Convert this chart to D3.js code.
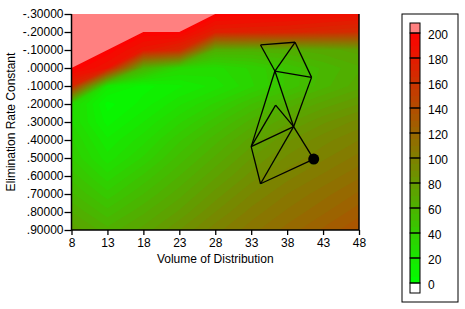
<!DOCTYPE html>
<html>
<head>
<meta charset="utf-8">
<script src="https://cdn.jsdelivr.net/npm/d3@7"></script>
<style>
  body { margin: 0; background: #fff; }
  svg text { font-family: "Liberation Sans", Arial, sans-serif; }
</style>
</head>
<body>
<div id="chart"></div>
<script>
// grid nodes (volume columns, rate constant rows)
const volumes = [8, 13, 18, 23, 28, 33, 38, 43, 48];
const rates = [-0.3, -0.2, -0.1, 0.0, 0.1, 0.2, 0.3, 0.4, 0.5, 0.6, 0.7, 0.8, 0.9];

// surface values, null = off the scale (pink area)
const surface = [
  [null, null, null, null, 199, 196, 194, 191, 188],
  [null, null, 199, 199, 176, 174, 172, 168, 164],
  [null, 199, 182, 168, 64, 62, 64, 68, 72],
  [199, 185, 60, 32, 28, 36, 46, 56, 64],
  [170, 18, 8, 14, 22, 34, 46, 58, 68],
  [32, 3, 12, 24, 36, 50, 62, 72, 80],
  [30, 8, 20, 34, 48, 62, 74, 84, 92],
  [36, 16, 28, 44, 58, 72, 84, 93, 100],
  [40, 22, 36, 52, 66, 80, 91, 99, 107],
  [48, 32, 46, 60, 74, 87, 98, 106, 114],
  [56, 42, 55, 68, 82, 95, 105, 113, 121],
  [65, 52, 64, 76, 90, 102, 111, 119, 128],
  [74, 62, 72, 85, 98, 108, 117, 126, 135]
];

// simplex vertices [volume, rate]
const simplexPts = {
  A: [34.3, -0.128], B: [39.1, -0.143], C: [36.3, 0.017], D: [41.4, 0.052],
  E: [36.4, 0.206], F: [38.9, 0.326], G: [33.0, 0.437], H: [34.3, 0.643]
};
const simplexEdges = [["A","B"],["A","C"],["B","C"],["B","D"],["C","D"],["C","F"],["C","G"],
  ["D","F"],["E","G"],["E","F"],["F","G"],["G","H"],["H","F"]];
const bestPoint = [41.7, 0.506];
const bestEdges = ["F", "H"];

const xTicks = [8, 13, 18, 23, 28, 33, 38, 43, 48];
const yTicks = [-0.3, -0.2, -0.1, 0, 0.1, 0.2, 0.3, 0.4, 0.5, 0.6, 0.7, 0.8, 0.9];
const legendTicks = [0, 20, 40, 60, 80, 100, 120, 140, 160, 180, 200];

const W = 465, H = 309;
const plot = {left: 71.5, right: 359, top: 14, bottom: 230};

const svg = d3.select("#chart").append("svg")
  .attr("width", W).attr("height", H);

const x = d3.scaleLinear().domain([8, 48]).range([plot.left, plot.right]);
const y = d3.scaleLinear().domain([-0.3, 0.9]).range([plot.top, plot.bottom]);

const toColor = d3.interpolateRgb("#00ff00", "#ff0000");
const colorOf = v => v >= 200 ? "#ff8080" : toColor(Math.max(0, v) / 200);

svg.append("clipPath").attr("id", "clip")
  .append("rect")
  .attr("x", plot.left).attr("y", plot.top)
  .attr("width", plot.right - plot.left).attr("height", plot.bottom - plot.top);

// contour bands
const nx = volumes.length, ny = rates.length;
const flat = [];
surface.forEach(row => row.forEach(v => flat.push(v == null ? 1000 : v)));

const step = 5;
const thresholds = d3.range(0, 200, step).concat([200]);
const contours = d3.contours().size([nx, ny]).thresholds(thresholds)(flat);

const proj = d3.geoTransform({
  point: function(cx, cy) {
    const vx = volumes[0] + (volumes[1] - volumes[0]) * (cx - 0.5);
    const vy = rates[0] + (rates[1] - rates[0]) * (cy - 0.5);
    this.stream.point(x(vx), y(vy));
  }
});
const path = d3.geoPath(proj);

svg.append("g").attr("clip-path", "url(#clip)")
  .selectAll("path")
  .data(contours)
  .enter()
  .append("path")
  .attr("d", path)
  .attr("fill", d => d.value >= 200 ? "#ff8080" : colorOf(d.value + step / 2));

// simplex
const sx = k => x(simplexPts[k][0]), sy = k => y(simplexPts[k][1]);
const simplex = svg.append("g").attr("clip-path", "url(#clip)");
simplex.selectAll("line.edge")
  .data(simplexEdges)
  .enter()
  .append("line")
  .attr("class", "edge")
  .attr("x1", d => sx(d[0])).attr("y1", d => sy(d[0]))
  .attr("x2", d => sx(d[1])).attr("y2", d => sy(d[1]))
  .attr("stroke", "#000").attr("stroke-width", 1.3);
simplex.selectAll("line.best")
  .data(bestEdges)
  .enter()
  .append("line")
  .attr("x1", d => sx(d)).attr("y1", d => sy(d))
  .attr("x2", x(bestPoint[0])).attr("y2", y(bestPoint[1]))
  .attr("stroke", "#000").attr("stroke-width", 1.3);
simplex.append("circle")
  .attr("cx", x(bestPoint[0])).attr("cy", y(bestPoint[1]))
  .attr("r", 5.5).attr("fill", "#000");

// axes
const fmtY = v => {
  const s = Math.abs(v).toFixed(5).replace(/^0/, "");
  return (v < 0 ? "-" : "") + s;
};

const xAxis = svg.append("g")
  .attr("transform", `translate(0,${plot.bottom})`)
  .call(d3.axisBottom(x).tickValues(xTicks).tickSize(5).tickPadding(3).tickFormat(d3.format("d")));
const yAxis = svg.append("g")
  .attr("transform", `translate(${plot.left},0)`)
  .call(d3.axisLeft(y).tickValues(yTicks).tickSize(7).tickPadding(1).tickFormat(fmtY));

[xAxis, yAxis].forEach(g => {
  g.select(".domain").remove();
  g.selectAll("text").attr("font-size", 12).attr("fill", "#000")
    .style("font-family", '"Liberation Sans", Arial, sans-serif');
  g.selectAll("line").attr("stroke", "#000").attr("stroke-width", 1.3);
});

svg.append("path")
  .attr("d", `M${plot.left},${plot.top}V${plot.bottom}H${plot.right}V${plot.top}`)
  .attr("fill", "none").attr("stroke", "#000").attr("stroke-width", 1.5);

svg.append("text")
  .attr("x", (plot.left + plot.right) / 2).attr("y", 263)
  .attr("text-anchor", "middle").attr("font-size", 12)
  .text("Volume of Distribution");

svg.append("text")
  .attr("transform", `translate(15,${(plot.top + plot.bottom) / 2}) rotate(-90)`)
  .attr("text-anchor", "middle").attr("font-size", 12)
  .text("Elimination Rate Constant");

// legend
const lg = {left: 402, top: 14, width: 56, height: 288};
svg.append("rect")
  .attr("x", lg.left).attr("y", lg.top)
  .attr("width", lg.width).attr("height", lg.height)
  .attr("fill", "#fff").attr("stroke", "#000").attr("stroke-width", 1);

const ly = d3.scaleLinear().domain([0, 200]).range([283, 33]);
const swX = 410, swW = 10;

const legend = svg.append("g");
// sub-bands inside each swatch
legend.selectAll("rect.band")
  .data(d3.range(0, 200, step))
  .enter()
  .append("rect")
  .attr("x", swX).attr("width", swW)
  .attr("y", d => Math.round(ly(d + step)))
  .attr("height", d => Math.round(ly(d)) - Math.round(ly(d + step)))
  .attr("shape-rendering", "crispEdges")
  .attr("fill", d => colorOf(d + step / 2));
// pink above, white below
legend.append("rect")
  .attr("x", swX).attr("width", swW).attr("y", ly(200) - 10).attr("height", 10)
  .attr("fill", "#ff8080").attr("stroke", "#000");
legend.append("rect")
  .attr("x", swX).attr("width", swW).attr("y", ly(0)).attr("height", 10)
  .attr("fill", "#fff").attr("stroke", "#000");
// outlines of the 20-unit boxes
legend.selectAll("rect.box")
  .data(legendTicks.slice(0, -1))
  .enter()
  .append("rect")
  .attr("x", swX).attr("width", swW)
  .attr("y", d => ly(d + 20)).attr("height", d => ly(d) - ly(d + 20))
  .attr("fill", "none").attr("stroke", "#000");

legend.selectAll("text")
  .data(legendTicks)
  .enter()
  .append("text")
  .attr("x", 428).attr("y", d => ly(d) + 2)
  .attr("dy", "0.35em")
  .attr("font-size", 12)
  .text(d => d);
</script>
</body>
</html>
